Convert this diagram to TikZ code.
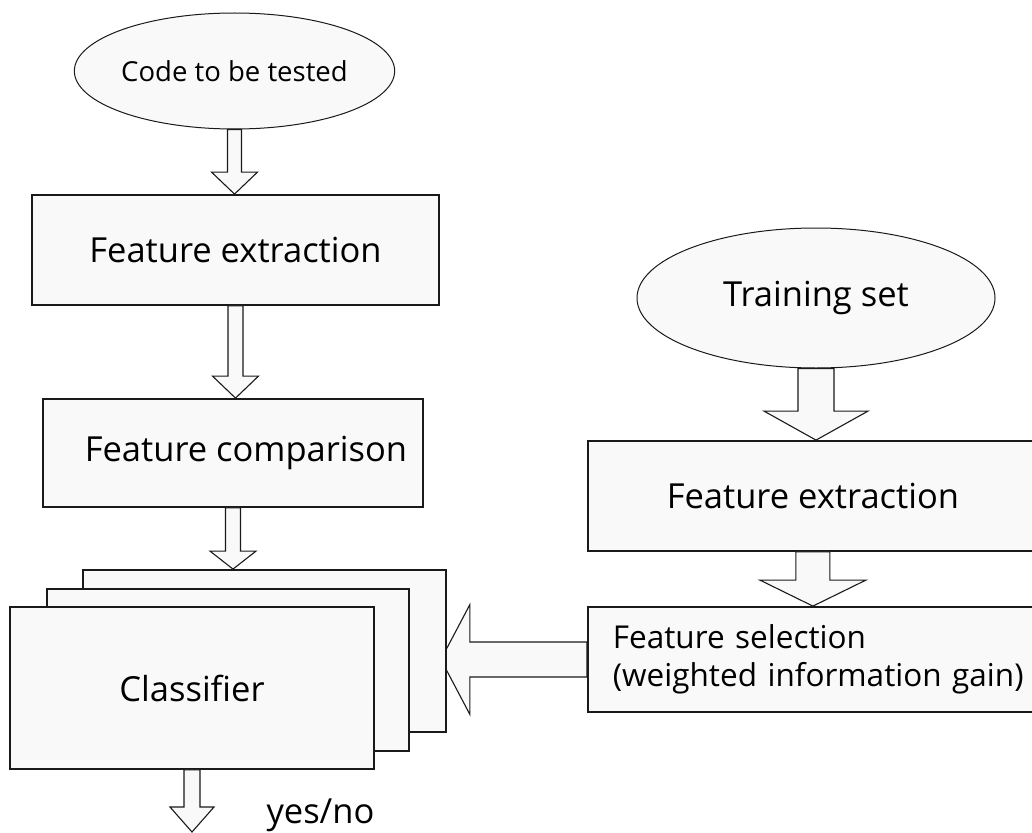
\documentclass[tikz,border=0pt]{standalone}
\usepackage{fontspec}
\setmainfont{Open Sans}
\usetikzlibrary{calc,shapes.geometric}

\definecolor{boxfill}{HTML}{F9F9F9}
\definecolor{edge}{HTML}{1A1A1A}

\pgfdeclarelayer{paper}
\pgfdeclarelayer{under}
\pgfsetlayers{paper,under,main}

% hollow block arrow: from, to, shaft half width, head half width, head length
\newcommand{\fatarrow}[5]{%
  \path (#1) coordinate (fa-s) (#2) coordinate (fa-t);
  \coordinate (fa-h) at ($(fa-t)!#5!(fa-s)$);
  \draw[blockarrow] ($(fa-s)!#3!90:(fa-t)$) -- ($(fa-h)!#3!90:(fa-t)$)
    -- ($(fa-h)!#4!90:(fa-t)$) -- (fa-t) -- ($(fa-h)!#4!-90:(fa-t)$)
    -- ($(fa-h)!#3!-90:(fa-t)$) -- ($(fa-s)!#3!-90:(fa-t)$) -- cycle;
}

\begin{document}
\begin{tikzpicture}[x=1pt,y=-1pt,
  box/.style={draw=edge, line width=1.8pt, fill=boxfill, rectangle, inner sep=0pt},
  oval/.style={draw=edge, line width=1pt, fill=boxfill, ellipse, inner sep=0pt},
  blockarrow/.style={draw=edge, line width=1.1pt, fill=boxfill, line join=miter},
  every node/.style={font=\fontsize{34.5}{38}\selectfont}]
\useasboundingbox (0,0) rectangle (1032,832);
\begin{pgfonlayer}{paper}
\fill[white] (0,0) rectangle (1032,832);
\end{pgfonlayer}

% test code branch
\node[oval, minimum width=304pt, minimum height=116pt, font=\fontsize{27.5}{33}\selectfont] (code) at (234.5,71) {Code to be tested};
\node[box, minimum width=407pt, minimum height=110pt] (fe1) at (235.5,250) {Feature extraction};
\node[box, minimum width=380pt, minimum height=108pt] (cmp) at (233,453) {\hspace*{26pt}Feature comparison};
\node[box, minimum width=363pt, minimum height=162pt] (cls3) at (264.5,651) {};
\node[box, minimum width=362pt, minimum height=162pt] (cls2) at (228,670) {};
\node[box, minimum width=364pt, minimum height=162pt] (cls) at (192,688) {Classifier};
\coordinate (out) at (192,832);
\node[anchor=base west] (yesno) at (263,823) {yes/no};

% training branch
\node[oval, minimum width=358pt, minimum height=140pt] (train) at (816,298) {Training set};
\node[box, anchor=west, minimum width=450pt, minimum height=110pt] (fe2) at (587,496) {Feature extraction};
\node[box, anchor=west, minimum height=105pt, text width=480pt, inner xsep=25pt, align=left,
  font=\fontsize{31.5}{38}\selectfont] (sel) at (587,659.5) {Feature selection\\(weighted information gain)};

\fatarrow{code.south}{code.south |- fe1.north}{7pt}{23pt}{22pt}
\fatarrow{fe1.south}{fe1.south |- cmp.north}{7.5pt}{23pt}{22pt}
\fatarrow{cmp.south}{cmp.south |- cls3.north}{7.5pt}{23pt}{18pt}
\fatarrow{cls.south}{out}{8pt}{22pt}{25pt}
\fatarrow{train.south}{train.south |- fe2.north}{18pt}{52pt}{29pt}
\fatarrow{fe2.south}{fe2.south |- sel.north}{17pt}{53pt}{26pt}
\begin{pgfonlayer}{under}
\fatarrow{sel.west}{$(cls3.east |- sel.west)+(-6,0)$}{17.5pt}{55pt}{29pt}
\end{pgfonlayer}
\end{tikzpicture}
\end{document}
